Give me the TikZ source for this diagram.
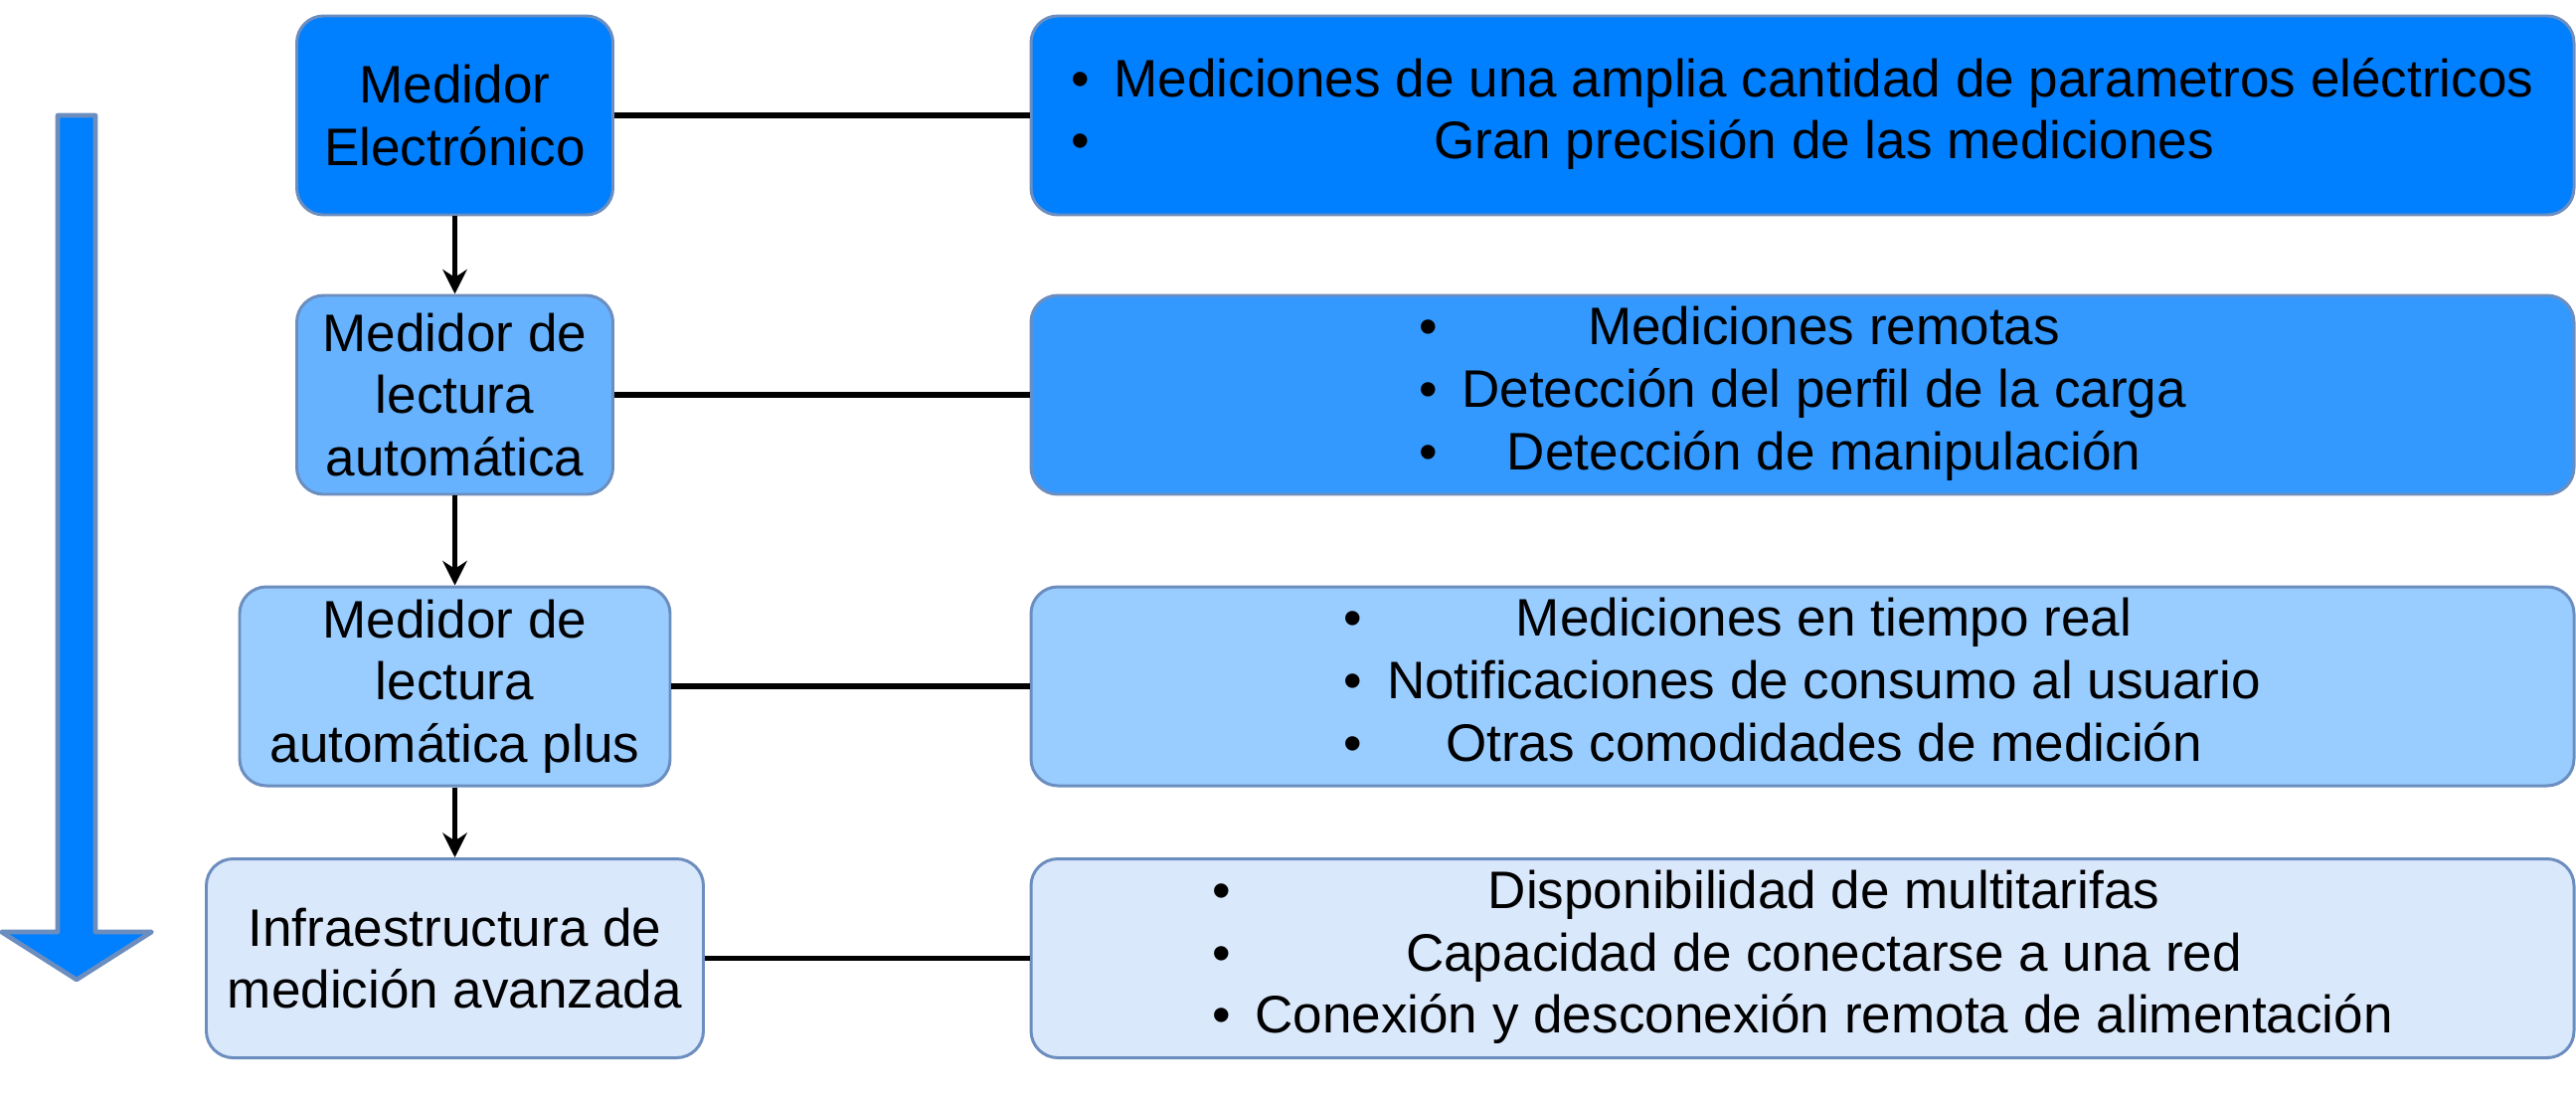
\documentclass[tikz,border=0pt]{standalone}
\usepackage{fontspec}
\setmainfont{Liberation Sans}
\usetikzlibrary{arrows.meta}

\definecolor{borde}{HTML}{6C8EBF}
\definecolor{azulA}{HTML}{007FFF}
\definecolor{azulB}{HTML}{66B2FF}
\definecolor{azulBb}{HTML}{3399FF}
\definecolor{azulC}{HTML}{99CCFF}
\definecolor{azulD}{HTML}{DAE8FC}

\newcommand{\lista}[1]{\raisebox{-1.5pt}{\begin{tabular}{@{}c@{\hspace{7pt}}c@{}}#1\end{tabular}}}

\begin{document}
\begin{tikzpicture}[
    caja/.style={draw=borde, line width=0.85pt, rounded corners=0.27cm,
      align=center, inner sep=0pt, minimum height=2cm,
      font=\fontsize{15.1pt}{17.8pt}\selectfont},
    detalle/.style={caja, minimum width=15.52cm},
    enlace/.style={line width=1.7pt},
    flecha/.style={enlace, -{Stealth[length=7pt,width=7pt]}}]
  \useasboundingbox (0,0) rectangle (25.91,11.10);

  % flecha grande de la izquierda
  \draw[fill=azulA, draw=borde, line width=1.3pt, line join=round]
    (0.58,9.94) -- (0.96,9.94) -- (0.96,1.73) -- (1.525,1.73)
    -- (0.77,1.25) -- (0.015,1.73) -- (0.58,1.73) -- cycle;

  % medidores
  \node[caja, fill=azulA, minimum width=3.18cm] (m1) at (4.575,9.94) {Medidor\\Electrónico};
  \node[caja, fill=azulB, minimum width=3.18cm] (m2) at (4.575,7.13) {Medidor de\\lectura\\automática};
  \node[caja, fill=azulC, minimum width=4.33cm] (m3) at (4.575,4.20) {Medidor de\\lectura\\automática plus};
  \node[caja, fill=azulD, minimum width=5.00cm] (m4) at (4.575,1.465) {Infraestructura de\\medición avanzada};

  % caracteristicas
  \node[detalle, fill=azulA] (d1) at (18.13,9.94) {\lista{%
    • & Mediciones de una amplia cantidad de parametros eléctricos\\
    • & Gran precisión de las mediciones}};
  \node[detalle, fill=azulBb] (d2) at (18.13,7.13) {\lista{%
    • & Mediciones remotas\\
    • & Detección del perfil de la carga\\
    • & Detección de manipulación}};
  \node[detalle, fill=azulC] (d3) at (18.13,4.20) {\lista{%
    • & Mediciones en tiempo real\\
    • & Notificaciones de consumo al usuario\\
    • & Otras comodidades de medición}};
  \node[detalle, fill=azulD] (d4) at (18.13,1.465) {\lista{%
    • & Disponibilidad de multitarifas\\
    • & Capacidad de conectarse a una red\\
    • & Conexión y desconexión remota de alimentación}};

  \draw[flecha] (m1) -- (m2);
  \draw[flecha] (m2) -- (m3);
  \draw[flecha] (m3) -- (m4);

  \draw[enlace] (m1) -- (d1);
  \draw[enlace] (m2) -- (d2);
  \draw[enlace] (m3) -- (d3);
  \draw[enlace] (m4) -- (d4);
\end{tikzpicture}
\end{document}
